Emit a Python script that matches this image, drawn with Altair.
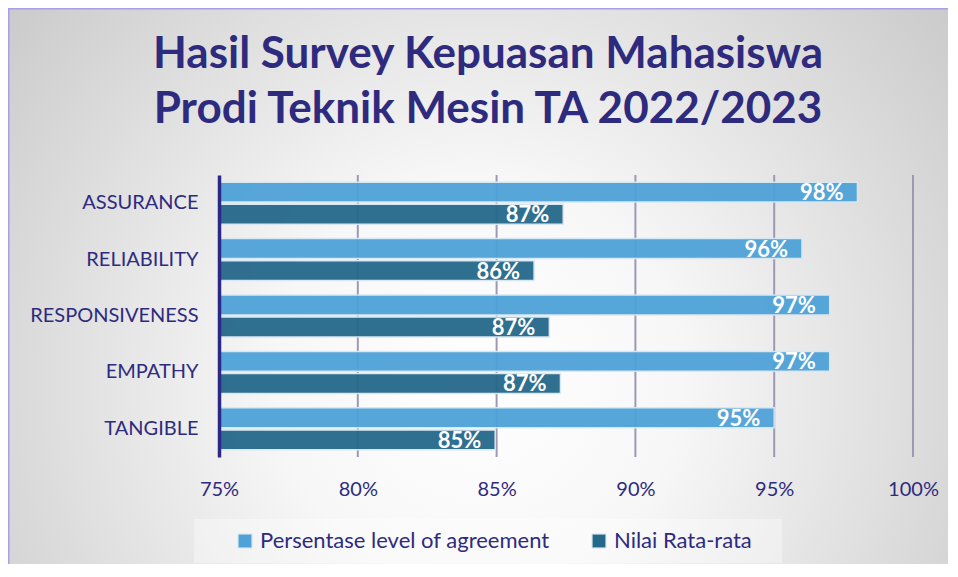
import altair as alt
import pandas as pd

categories = ["ASSURANCE", "RELIABILITY", "RESPONSIVENESS", "EMPATHY", "TANGIBLE"]
series = ["Persentase level of agreement", "Nilai Rata-rata"]
agreement = [98.0, 96.0, 97.0, 97.0, 95.0]
rata_rata = [87.4, 86.35, 86.9, 87.3, 84.95]
x_ticks = [75, 80, 85, 90, 95, 100]
title_lines = ["Hasil Survey Kepuasan Mahasiswa", "Prodi Teknik Mesin TA 2022/2023"]

rows = []
for c, a, r in zip(categories, agreement, rata_rata):
    rows.append({"kategori": c, "seri": series[0], "nilai": a})
    rows.append({"kategori": c, "seri": series[1], "nilai": r})
df = pd.DataFrame(rows)

NAVY = "#2e2b7f"
FONT = "Lato"
W, H = 694, 282
PL, PT, PR, PB = 211, 167, 35, 107

x_scale = alt.Scale(domain=[75, 100], nice=False, zero=False)
y_scale = alt.Scale(domain=categories, paddingInner=0.255, paddingOuter=0.1275)
off_scale = alt.Scale(domain=series, paddingInner=0.1, paddingOuter=0)
color_scale = alt.Scale(domain=series, range=["#4fa2d8", "#25688a"])

one = alt.Data(values=[{}])

bg = alt.Chart(one).mark_rect(
    fill=alt.RadialGradient(
        gradient="radial",
        x1=0.5, y1=0.6, r1=0.0,
        x2=0.5, y2=0.6, r2=0.72,
        stops=[
            alt.GradientStop(offset=0.0, color="#ffffff"),
            alt.GradientStop(offset=0.3, color="#f7f7f7"),
            alt.GradientStop(offset=1.0, color="#c2c2c2"),
        ],
    )
).encode(
    x=alt.value(-PL), x2=alt.value(W + PR),
    y=alt.value(-PT), y2=alt.value(H + PB),
)

border_top = alt.Chart(one).mark_rule(color="#a99fe6", strokeWidth=1.5).encode(
    x=alt.value(-PL), x2=alt.value(W + PR), y=alt.value(-PT + 0.75)
)
border_left = alt.Chart(one).mark_rule(color="#a99fe6", strokeWidth=1.5).encode(
    x=alt.value(-PL + 0.75), y=alt.value(-PT), y2=alt.value(H + PB)
)

legend_box = alt.Chart(one).mark_rect(fill="#ffffff", opacity=0.35).encode(
    x=alt.value(-25), x2=alt.value(563), y=alt.value(344), y2=alt.value(388)
)

title1 = alt.Chart(one).mark_text(
    text=title_lines[0], align="center", baseline="alphabetic",
    font=FONT, fontSize=44, fontWeight="bold", color=NAVY
).encode(x=alt.value(269), y=alt.value(-107))
title2 = alt.Chart(one).mark_text(
    text=title_lines[1], align="center", baseline="alphabetic",
    font=FONT, fontSize=44, fontWeight="bold", color=NAVY
).encode(x=alt.value(269), y=alt.value(-52))

grid = alt.Chart(pd.DataFrame({"t": x_ticks[1:]})).mark_rule(
    color="#9d99b4", strokeWidth=2
).encode(x=alt.X("t:Q", scale=x_scale))

base = alt.Chart(df)

bars = base.mark_bar(
    stroke="#d6e8f4", strokeWidth=1.5, opacity=0.95
).encode(
    y=alt.Y("kategori:N", scale=y_scale, sort=categories,
            axis=alt.Axis(title=None, labelFont=FONT, labelFontSize=20, labelColor=NAVY,
                          labelPadding=21, ticks=False, domain=True, domainColor="#2b2886",
                          domainWidth=3.5, grid=False, zindex=1)),
    yOffset=alt.YOffset("seri:N", sort=series, scale=off_scale),
    x=alt.X("nilai:Q", scale=x_scale,
            axis=alt.Axis(title=None, values=x_ticks, labelExpr="datum.value + '%'",
                          labelFont=FONT, labelFontSize=20, labelColor=NAVY,
                          labelPadding=22, labelFlush=False, ticks=False, domain=False,
                          grid=False, zindex=1)),
    x2=alt.datum(75),
    color=alt.Color("seri:N", scale=color_scale, sort=series,
                    legend=alt.Legend(title=None, orient="none", direction="horizontal",
                                      legendX=15, legendY=355, padding=0,
                                      symbolType="square", symbolSize=190,
                                      symbolStrokeColor="#c9dfee", symbolStrokeWidth=1,
                                      symbolOpacity=1,
                                      labelFont=FONT, labelFontSize=22, labelColor=NAVY,
                                      labelOffset=4, columnPadding=38, labelLimit=400)),
)

labels = base.transform_calculate(
    lbl="format(datum.nilai, '.0f') + '%'"
).mark_text(
    align="right", baseline="middle", dx=-14, dy=1, color="white",
    font=FONT, fontSize=22, fontWeight="bold"
).encode(
    y=alt.Y("kategori:N", scale=y_scale, sort=categories),
    yOffset=alt.YOffset("seri:N", sort=series, scale=off_scale),
    x=alt.X("nilai:Q", scale=x_scale),
    text="lbl:N",
)

chart = alt.layer(bg, border_top, border_left, legend_box, title1, title2, grid, bars, labels).properties(
    width=W, height=H,
    autosize=alt.AutoSizeParams(type="none"),
    padding={"left": PL, "top": PT, "right": PR, "bottom": PB},
).configure_view(stroke=None).configure(background="white")

chart.save("out.html", embed_options={"renderer": "svg", "actions": False})
